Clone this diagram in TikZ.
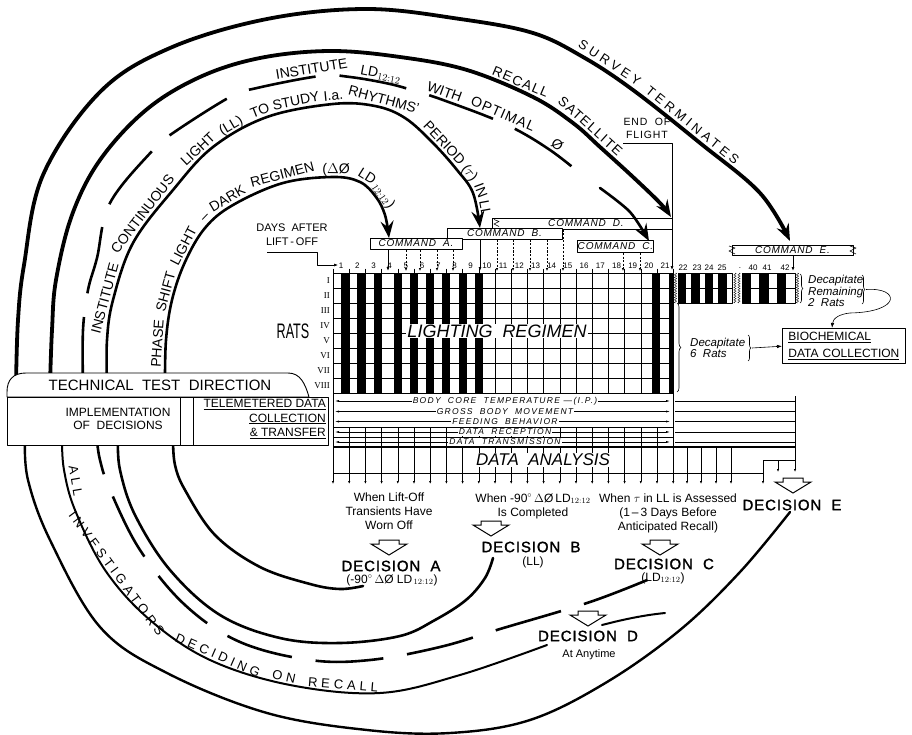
\documentclass[tikz,border=0pt]{standalone}
\usepackage{fontspec}
\setmainfont{Liberation Sans}
\newfontfamily\romanfont{Liberation Serif}
\usepackage{graphicx}
\usetikzlibrary{arrows.meta,positioning,decorations.markings,decorations.pathreplacing,decorations.pathmorphing}

\newcommand\pxsize[1]{\fontsize{#1}{#1}\selectfont}
\newcommand\lspace[1]{\addfontfeatures{LetterSpace=#1}}

\tikzset{
  heavyloop/.style={line width=3.8pt, line cap=round},
  loopline/.style={line width=2.6pt, line cap=round},
  dashloop/.style={line width=2.6pt, dash pattern=on 68pt off 24pt},
  bigtip/.style={-{Stealth[length=17pt,width=13pt,inset=6pt]}},
  gridline/.style={line width=0.6pt},
  cmdbox/.style={draw, line width=0.8pt, fill=white, inner sep=0pt,
    font=\itshape\pxsize{10}\lspace{8}},
  cmdtick/.style={line width=0.5pt, dash pattern=on 2pt off 1.5pt,
    -{Latex[length=3pt,width=2.4pt]}},
  solidtick/.style={line width=0.8pt, -{Latex[length=4pt,width=3pt]}},
  smalltip/.style={gridline, -{Latex[length=3pt,width=2.4pt]}},
  daylabel/.style={font=\pxsize{8}, inner sep=0pt},
  ratlabel/.style={font=\romanfont\pxsize{9}, anchor=east, inner sep=0pt},
  rowtext/.style={fill=white, inner sep=1pt, font=\itshape\pxsize{8.5}\lspace{15}},
  rowarrow/.style={line width=0.5pt, {Latex[length=4pt,width=2pt]}-{Latex[length=4pt,width=2pt]}},
  boxline/.style={draw, line width=0.9pt, fill=white},
  whentext/.style={align=center, font=\fontsize{12}{14}\selectfont, inner sep=0pt},
  decision/.style={font=\pxsize{15}\lspace{6}\addfontfeatures{FakeBold=1.5}, inner sep=1pt},
  decnote/.style={font=\pxsize{12}, inner sep=0pt},
  curveword/.style={transform shape, anchor=base, inner sep=0pt, yshift=#1},
  bracetip/.style={decorate, decoration={brace, amplitude=#1}, line width=0.6pt},
  breakline/.style={decorate, decoration={zigzag, amplitude=1.2pt, segment length=2.5pt}, line width=0.4pt},
  openarrow/.pic={\draw[line width=1pt, fill=white, line join=miter]
    (-10,0) -- (10,0) -- (10,4) -- (18,4) -- (0,15) -- (-18,4) -- (-10,4) -- cycle;},
}

\begin{document}
\begin{tikzpicture}[x=1pt, y=-1pt, line join=round]
  \useasboundingbox (0,0) rectangle (912,735);
  \def\gridx{333}
  \def\dayw{16.2}
  \def\gridtop{273}
  \def\gridbot{393}

  % lighting regimen grid
  \foreach \a/\b in {0.5/1, 1.5/2, 2.5/3, 3.75/4.25, 4.75/5.25, 5.75/6.25, 6.75/7.25, 7.75/8.25, 8.75/9.25, 19.7/20.2, 20.75/21}
    \fill ({\gridx+\dayw*\a},\gridtop) rectangle ({\gridx+\dayw*\b},\gridbot);
  \foreach \d in {0,...,21}
    \draw[gridline] ({\gridx+\dayw*\d},\gridtop) -- ({\gridx+\dayw*\d},\gridbot);
  \foreach \r in {0,...,8}
    \draw[gridline] (\gridx,{\gridtop+15*\r}) -- ({\gridx+\dayw*21},{\gridtop+15*\r});
  \foreach \d in {1,...,21}
    \node[daylabel] (day\d) at ({\gridx+\dayw*(\d-0.5)},266) {\d};
  \foreach \d in {0,...,21}
    \draw[line width=0.5pt] ({\gridx+\dayw*\d},268.5) -- ({\gridx+\dayw*\d},\gridtop);
  \foreach \n [count=\i] in {I,II,III,IV,V,VI,VII,VIII}
    \node[ratlabel] (rat\i) at (330,{\gridtop+15*\i-7.5}) {\n};
  \node (rats) at (293,331) {\scalebox{0.6}[1]{\pxsize{21}RATS}};
  \node[fill=white, inner sep=1pt, font=\itshape\pxsize{18}] (regimen) at (497,331) {LIGHTING\ \ REGIMEN};

  % remaining two rats
  \foreach \a in {678,691.5,705,718.5}
    \fill (\a,\gridtop) rectangle ({\a+8},303);
  \foreach \a in {742,759.7,777.3}
    \fill (\a,\gridtop) rectangle ({\a+9},303);
  \draw[gridline] (678,\gridtop) rectangle (732,303);
  \draw[gridline] (742,\gridtop) rectangle (795,303);
  \draw[gridline] (678,288) -- (732,288);
  \draw[gridline] (742,288) -- (795,288);
  \foreach \a in {691.5,705,718.5,759.7,777.3}
    \draw[gridline] (\a,\gridtop) -- (\a,303);
  \draw[breakline] (675.5,\gridtop) -- (675.5,303);
  \draw[breakline] (735,\gridtop) -- (735,303);
  \draw[breakline] (739,\gridtop) -- (739,303);
  \draw[breakline] (797.5,\gridtop) -- (797.5,303);
  \foreach \n/\xx in {22/683, 23/697, 24/709, 25/722, 40/753, 41/767, 42/785}
    \node[daylabel] (day\n) at (\xx,268) {\n};
  \node[daylabel] (daygap) at (740,268) {.};

  % days after lift-off, end of flight
  \node[font=\pxsize{11}] (daysafter) at (292,228) {DAYS\ \ AFTER};
  \node[font=\pxsize{11}] (liftoff) at (292,242) {LIFT\,-\,OFF};
  \coordinate (lostart) at (267,252);
  \draw[line width=0.6pt, -{Latex[length=4pt,width=3pt]}] (lostart) -- (317,252) -- (317,265) -- (338,265);
  \node[font=\pxsize{10.5}\lspace{8}] (endof) at (647,122) {END\ \ OF};
  \node[font=\pxsize{10.5}\lspace{8}] (flight) at (647,135) {FLIGHT};
  \coordinate (flightend) at (623,143);
  \draw[line width=0.6pt, -{Latex[length=4pt,width=3pt]}] (flightend) -- (672,143) -- (672,270);

  % commands
  \node[cmdbox, minimum width=180pt, minimum height=11pt] (cmdD) at (582,223.5) {\hspace*{8pt}COMMAND\ \ D.};
  \draw[line width=0.6pt] (494,219.5) -- (499,221.5) -- (494,224) -- (499,226.5);
  \node[cmdbox, minimum width=115pt, minimum height=11pt] (cmdB) at (504.5,233.5) {COMMAND\ \ B.};
  \node[cmdbox, minimum width=92pt, minimum height=11pt] (cmdA) at (416,243.5) {COMMAND\ \ A.};
  \node[cmdbox, minimum width=75pt, minimum height=12pt] (cmdC) at (615.5,246) {COMMAND\ \ C.};
  \node[cmdbox, minimum width=121pt, minimum height=10pt] (cmdE) at (792.5,250) {COMMAND\ \ E.};
  \draw[line width=0.6pt] (729,246) -- (735,248) -- (729,251) -- (735,254);
  \draw[line width=0.6pt] (850,246) -- (856,248) -- (850,251) -- (856,254);
  \foreach \xx in {406,420,437,453}
    \draw[cmdtick] (\xx,250) -- (\xx,271);
  \foreach \xx in {497,513,530,547}
    \draw[cmdtick] (\xx,240) -- (\xx,271);
  \draw[cmdtick] (563,230) -- (563,271);
  \foreach \xx in {623,640}
    \draw[cmdtick] (\xx,253) -- (\xx,271);
  \draw[solidtick] (388,249.5) -- (388,271);
  \draw[solidtick] (480,239.5) -- (480,271);
  \draw[solidtick] (793,255.5) -- (793,271);

  % telemetered rows
  \foreach \yy in {401,411.5,421.5,432,442}
  {
    \draw[rowarrow] (335,\yy) -- (670,\yy);
    \draw[gridline] (675,\yy) -- (795,\yy);
  }
  \draw[gridline] (\gridx,\gridbot) -- (\gridx,473);
  \draw[gridline] ({\gridx+\dayw*21},\gridbot) -- ({\gridx+\dayw*21},447);
  \draw[gridline] (\gridx,427) -- ({\gridx+\dayw*21},427);
  \draw[gridline] (\gridx,437) -- ({\gridx+\dayw*21},437);
  \foreach \d in {1,...,20}
    \draw[gridline] ({\gridx+\dayw*\d},427) -- ({\gridx+\dayw*\d},447);
  \foreach \yy/\rowname in {401/{BODY\ \ CORE\ \ TEMPERATURE\ ---\,(I.P.)}, 411.5/{GROSS\ \ BODY\ \ MOVEMENT}, 421.5/{FEEDING\ \ BEHAVIOR}, 432/{DATA\ \ RECEPTION}, 442/{DATA\ \ TRANSMISSION}}
    \node[rowtext] at (505,\yy) {\rowname};
  \draw[gridline] (795,396) -- (795,447);

  % data analysis
  \foreach \d in {0,...,21}
    \draw[smalltip] ({\gridx+\dayw*\d},447) -- ({\gridx+\dayw*\d},484);
  \foreach \xx in {687,701,716,731}
    \draw[smalltip] (\xx,447) -- (\xx,484);
  \draw[smalltip] (763,473) -- (763,484);
  \draw[smalltip] (778,460) -- (778,472);
  \draw[smalltip] (795,460) -- (795,472);
  \draw[line width=1.2pt] (\gridx,447) -- (795,447);
  \draw[line width=1pt] (\gridx,473) -- (763,473) -- (763,460) -- (795,460) -- (795,447);
  \node[fill=white, inner sep=1pt, font=\itshape\pxsize{17}] (analysis) at (543,460) {DATA\ \ ANALYSIS};

  % decapitation and biochemistry
  \node[boxline, anchor=north west, align=left, text width=111pt, inner xsep=6pt, inner ysep=4pt,
        font=\fontsize{12}{17}\selectfont] (bio) at (782,328) {\underline{BIOCHEMICAL}\\\underline{DATA COLLECTION}};
  \node[font=\itshape\fontsize{11.5}{10}\selectfont, align=left, inner sep=0pt, anchor=north west] (decsix) at (690,338) {Decapitate\\6\ \ Rats};
  \node[font=\itshape\fontsize{11.5}{10}\selectfont, align=left, inner sep=0pt, anchor=north west] (dectwo) at (808,275) {Decapitate\\Remaining\\2\ \ Rats};
  \draw[bracetip=4pt] (677,303) -- (677,392);
  \draw[bracetip=3pt] (748,335) -- (748,361);
  \draw[bracetip=3pt] (800,274) -- (800,303);
  \draw[bracetip=3pt] (862,275) -- (862,304);
  \coordinate (sixtip) at (752,348);
  \coordinate (twotip) at (866,289.5);
  \coordinate (bioin) at (832,328);
  \draw[line width=0.6pt, -{Latex[length=5pt,width=3.5pt]}] (sixtip) -- (bio.west);
  \draw[line width=0.6pt, -{Latex[length=5pt,width=3.5pt]}] (twotip) .. controls (900,287) and (902,312) .. (850,313) .. controls (840,314) and (833,318) .. (bioin);

  % decision loops, upper part
  \draw[heavyloop, bigtip] plot[smooth, tension=0.6] coordinates {(16,385) (18,320) (24,265) (43,175) (100,92) (170,48) (267,19) (367,9) (460,19) (533,33) (583,57) (633,90) (700,143) (760,193) (790,241)};
  \draw[heavyloop, bigtip] plot[smooth, tension=0.6] coordinates {(50,385) (52,330) (56,280) (72,215) (100,160) (146,110) (200,77) (260,58) (330,51) (400,57) (467,70) (533,97) (573,123) (600,147) (633,177) (660,203) (671,217)};
  \draw[dashloop] plot[smooth, tension=0.6] coordinates {(83,385) (83,330) (88,290) (97,258) (110,203) (153,150) (173,133) (230,97) (257,88) (320,76) (350,77) (390,84) (418,92) (443,100) (505,124) (550,150) (588,180)};
  \draw[loopline, bigtip] plot[smooth] coordinates {(600,188) (630,212) (649,241)};
  \draw[loopline, bigtip] plot[smooth, tension=0.6] coordinates {(107,385) (107,340) (113,300) (133,243) (173,190) (213,147) (267,117) (333,104) (375,106) (405,118) (433,143) (457,170) (473,193) (480,228)};
  \draw[loopline, bigtip] plot[smooth, tension=0.6] coordinates {(165,385) (166,340) (172,300) (185,262) (205,228) (233,205) (283,183) (333,177) (360,182) (376,197) (385,215) (389,238)};

  % decision loops, lower part
  \draw[loopline, line width=2.4pt] plot[smooth, tension=0.6] coordinates {(25,440) (28,480) (50,540) (100,627) (167,673) (267,713) (367,730) (450,733) (530,720) (607,682) (680,630) (740,572) (790,512)};
  \draw[loopline, line width=2pt] plot[smooth, tension=0.6] coordinates {(62,440) (64,470) (75,510) (105,570) (150,620) (210,660) (290,685) (380,693) (460,675) (547,645)};
  \draw[loopline, line width=2pt] (602,625) .. controls (625,619) and (645,615) .. (665,613);
  \draw[dashloop, dash phase=33pt] plot[smooth, tension=0.6] coordinates {(97,440) (100,460) (110,490) (140,550) (185,605) (240,642) (310,660) (370,660) (440,647) (500,629) (590,602) (652,578)};
  \draw[loopline] plot[smooth, tension=0.6] coordinates {(118,440) (120,470) (135,515) (170,570) (220,615) (280,638) (340,643) (400,636) (435,620) (466,600) (485,578) (493,558)};
  \draw[loopline] plot[smooth, tension=0.6] coordinates {(173,440) (175,465) (185,490) (215,535) (260,567) (310,584) (340,589) (363,586)};

  % words along the loops
  \path[every node/.style={font=\pxsize{13}\lspace{28}}, decorate, decoration={markings,
      mark=at position 81pt with {\node[curveword=4.5pt] {SURVEY};},
      mark=at position 184pt with {\node[curveword=4.5pt] {TERMINATES};}}]
    plot[smooth, tension=0.6] coordinates {(533,33) (583,57) (633,90) (700,143) (760,193) (790,241)};
  \path[every node/.style={font=\pxsize{13.5}\lspace{10}}, decorate, decoration={markings,
      mark=at position 54pt with {\node[curveword=4pt] {RECALL};},
      mark=at position 134pt with {\node[curveword=4pt] {SATELLITE};}}]
    plot[smooth, tension=0.6] coordinates {(467,70) (533,97) (573,123) (600,147) (633,177) (660,203) (671,217)};
  \path[every node/.style={font=\pxsize{14}}, decorate, decoration={markings,
      mark=at position 57pt with {\node[curveword=3.5pt] {INSTITUTE};},
      mark=at position 124pt with {\node[curveword=3.5pt] {LD$_{12:12}$};}}]
    plot[smooth, tension=0.6] coordinates {(257,88) (320,76) (350,77) (390,84) (418,92) (443,100)};
  \path[every node/.style={font=\pxsize{14}}, decorate, decoration={markings,
      mark=at position 25pt with {\node[curveword=3.5pt] {WITH};},
      mark=at position 87pt with {\node[curveword=3.5pt, font=\pxsize{14}\lspace{8}] {OPTIMAL};},
      mark=at position 148pt with {\node[curveword=3.5pt] {\O};}}]
    plot[smooth, tension=0.6] coordinates {(418,92) (443,100) (505,124) (550,150) (588,180)};
  \path[every node/.style={font=\pxsize{14}}, decorate, decoration={markings,
      mark=at position 38pt with {\node[curveword=3.5pt] {INSTITUTE};},
      mark=at position 128pt with {\node[curveword=3.5pt] {CONTINUOUS};},
      mark=at position 212pt with {\node[curveword=3.5pt] {LIGHT};},
      mark=at position 251pt with {\node[curveword=3.5pt] {(LL)};},
      mark=at position 282pt with {\node[curveword=3.5pt] {TO};},
      mark=at position 318pt with {\node[curveword=3.5pt] {STUDY};},
      mark=at position 355pt with {\node[curveword=3.5pt] {I.a.};},
      mark=at position 403pt with {\node[curveword=3.5pt] {RHYTHMS'};},
      mark=at position 474pt with {\node[curveword=3.5pt] {PERIOD};},
      mark=at position 513pt with {\node[curveword=3.5pt] {($\tau$)};},
      mark=at position 531pt with {\node[curveword=3.5pt] {IN};},
      mark=at position 548pt with {\node[curveword=3.5pt] {LL};}}]
    plot[smooth, tension=0.6] coordinates {(107,338) (113,300) (133,243) (173,190) (213,147) (267,117) (333,104) (375,106) (405,118) (433,143) (457,170) (473,193) (480,228)};
  \path[every node/.style={font=\pxsize{14}}, decorate, decoration={markings,
      mark=at position 26pt with {\node[curveword=3.5pt] {PHASE};},
      mark=at position 77pt with {\node[curveword=3.5pt] {SHIFT};},
      mark=at position 124pt with {\node[curveword=3.5pt] {LIGHT};},
      mark=at position 158pt with {\node[curveword=3.5pt] {\textendash};},
      mark=at position 185pt with {\node[curveword=3.5pt] {DARK};},
      mark=at position 243pt with {\node[curveword=3.5pt] {REGIMEN};},
      mark=at position 295pt with {\node[curveword=3.5pt] {($\Delta$\O};},
      mark=at position 323pt with {\node[curveword=3.5pt] {LD};},
      mark=at position 345pt with {\node[curveword=3.5pt] {$_{12:12}$)};}}]
    plot[smooth, tension=0.6] coordinates {(165,370) (166,340) (172,300) (185,262) (205,228) (233,205) (283,183) (333,177) (360,182) (376,197) (385,215) (389,238)};
  \path[every node/.style={font=\pxsize{13}\lspace{30}}, decorate, decoration={markings,
      mark=at position 24.4pt with {\node[curveword=3pt] {ALL};},
      mark=at position 129.9pt with {\node[curveword=3pt] {INVESTIGATORS};},
      mark=at position 265.4pt with {\node[curveword=3pt] {DECIDING};},
      mark=at position 336.5pt with {\node[curveword=3pt] {ON};},
      mark=at position 397.1pt with {\node[curveword=3pt] {RECALL};}}]
    plot[smooth, tension=0.6] coordinates {(65,458) (75,510) (105,570) (150,620) (210,660) (290,685) (380,693) (460,675)};

  % test direction boxes
  \draw[boxline] (7,397) -- (7,392) .. controls (7,380) and (13,373) .. (26,373) -- (288,373)
    .. controls (300,373) and (305,383) .. (309,397) -- cycle;
  \node[font=\pxsize{15}] (direction) at (160,385) {TECHNICAL\ \ TEST\ \ DIRECTION};
  \node[boxline, minimum width=173pt, minimum height=48pt, anchor=north west, inner sep=0pt] (impl) at (7,397) {};
  \node[align=center, font=\fontsize{12}{13}\selectfont, inner sep=0pt] (impltext) at (118,419) {IMPLEMENTATION\\OF\ \ DECISIONS};
  \draw[boxline] (180,397) rectangle (193,445);
  \node[boxline, minimum width=135pt, minimum height=48pt, anchor=north west, inner sep=0pt] (telem) at (193,397) {};
  \node[align=right, anchor=east, inner sep=0pt, font=\fontsize{12}{14.5}\selectfont] (telemtext) at (326,419)
    {\underline{TELEMETERED DATA}\\\underline{COLLECTION}\\\underline{\&\ TRANSFER}};

  % decisions
  \node[whentext] (whenA) at (389,511) {When Lift-Off\\Transients Have\\Worn Off};
  \pic (arrA) at (389,540) {openarrow};
  \node[decision] (decA) at (391,566) {DECISION\ \ A};
  \node[decnote] (noteA) at (392,580) {(-90$^\circ$\,$\Delta$\O\ LD$_{\,12:12}$)};
  \node[whentext] (whenB) at (533,506) {When -90$^\circ$\,$\Delta$\O\,LD$_{12:12}$\\Is Completed};
  \pic (arrB) at (491,521) {openarrow};
  \node[decision] (decB) at (531,547) {DECISION\ \ B};
  \node[decnote] (noteB) at (533,562) {(LL)};
  \node[whentext] (whenC) at (668,513) {When $\tau$ in LL is Assessed\\(1\,--\,3 Days Before\\Anticipated Recall)};
  \pic (arrC) at (660,540) {openarrow};
  \node[decision] (decC) at (664,564) {DECISION\ \ C};
  \node[decnote] (noteC) at (663,578) {(LD$_{12:12}$)};
  \pic (arrD) at (588,611) {openarrow};
  \node[decision, fill=white] (decD) at (588,636) {DECISION\ \ D};
  \node[decnote, font=\pxsize{11}] (noteD) at (589,655) {At Anytime};
  \pic (arrE) at (793,478) {openarrow};
  \node[decision] (decE) at (792,505) {DECISION\ \ E};
\end{tikzpicture}
\end{document}
